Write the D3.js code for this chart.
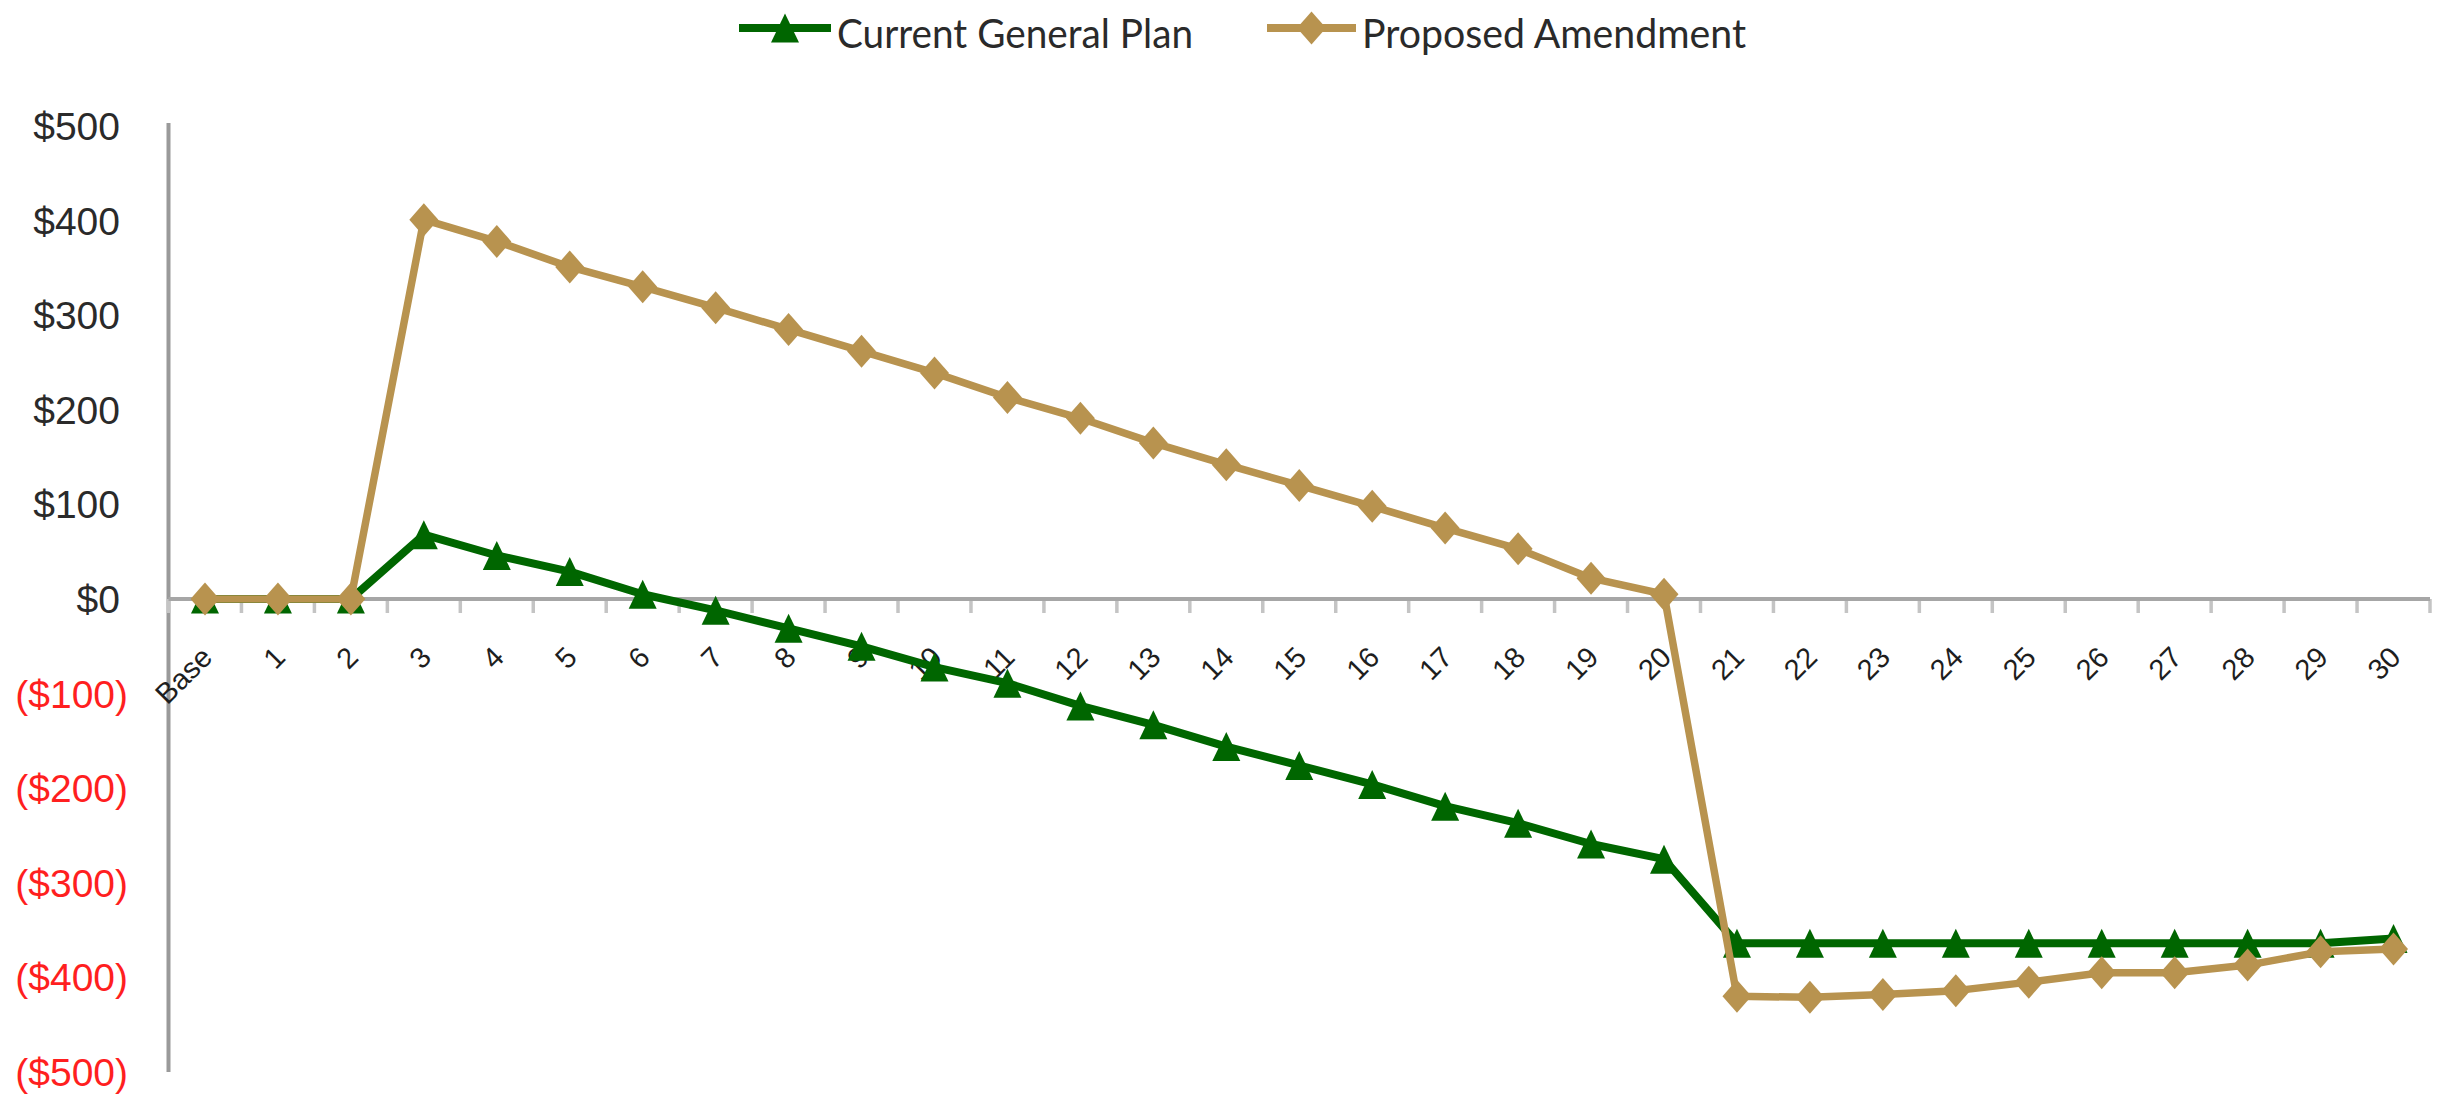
<!DOCTYPE html>
<html><head><meta charset="utf-8">
<script src="https://cdn.jsdelivr.net/npm/d3@7"></script>
<style>body{margin:0;background:#fff;}svg{display:block;}</style>
</head><body>
<svg id="chart" width="2444" height="1099"></svg>
<script>
const categories = ["Base","1","2","3","4","5","6","7","8","9","10","11","12","13","14","15","16","17","18","19","20","21","22","23","24","25","26","27","28","29","30"];
const currentPlan = [0,0,0,68,46,29,5,-12,-31,-50,-72,-89,-113,-133,-156,-176,-196,-219,-237,-259,-275,-364,-364,-364,-364,-364,-364,-364,-364,-364,-359];
const proposedAmendment = [0,0,0,401,378,351,330,308,285,262,239,213,191,165,142,120,98,75,53,22,5,-420,-421,-418,-414,-405,-395,-395,-387,-373,-370];
const yTickValues = [500,400,300,200,100,0,-100,-200,-300,-400,-500];
const seriesNames = ["Current General Plan","Proposed Amendment"];

(function () {
const svg = d3.select("#chart");
const plotLeft = 168.5, plotRight = 2430, plotTop = 126, plotBottom = 1072;
const x = d3.scaleBand().domain(categories).range([plotLeft, plotRight]);
const y = d3.scaleLinear().domain([-500, 500]).range([plotBottom, plotTop]);
const cx = c => x(c) + x.bandwidth() / 2;

const GREEN = "#006600", GOLD = "#b8934f";

// y axis line
svg.append("line").attr("x1", plotLeft).attr("x2", plotLeft).attr("y1", plotTop - 3).attr("y2", plotBottom)
  .attr("stroke", "#9a9a9a").attr("stroke-width", 4);

// x axis at zero with tick marks between categories
const zeroY = y(0);
const tickXs = categories.map(c => x(c)).concat([plotRight]);
svg.append("g").selectAll("line").data(tickXs).join("line")
  .attr("x1", d => d).attr("x2", d => d).attr("y1", zeroY).attr("y2", zeroY + 14)
  .attr("stroke", "#c4c4c4").attr("stroke-width", 3.5);
svg.append("line").attr("x1", plotLeft).attr("x2", plotRight).attr("y1", zeroY).attr("y2", zeroY)
  .attr("stroke", "#a6a6a6").attr("stroke-width", 4);

// y labels
const fmt = v => v < 0 ? "($" + (-v) + ")" : "$" + v;
svg.append("g").selectAll("text").data(yTickValues).join("text")
  .attr("x", d => d < 0 ? 128 : 120)
  .attr("y", d => y(d))
  .attr("dy", "0.36em")
  .attr("text-anchor", "end")
  .attr("font-family", "'Liberation Sans', Arial, sans-serif")
  .attr("font-size", 39)
  .attr("fill", d => d < 0 ? "#ff1f1f" : "#2a2a2a")
  .text(fmt);

// x labels rotated
svg.append("g").selectAll("text").data(categories).join("text")
  .attr("transform", d => `translate(${cx(d) + 9},659) rotate(-45)`)
  .attr("text-anchor", "end")
  .attr("font-family", "'Liberation Sans', Arial, sans-serif")
  .attr("font-size", 29)
  .attr("fill", "#1e1e1e")
  .text(d => d);

const triPath = "M0,-14.5L14,14.5L-14,14.5Z";
const diaPath = "M0,-16.5L14.5,0L0,16.5L-14.5,0Z";

const line = d3.line().x(d => cx(d.c)).y(d => y(d.v));
const greenData = categories.map((c, i) => ({c, v: currentPlan[i]}));
const goldData = categories.map((c, i) => ({c, v: proposedAmendment[i]}));

svg.append("path").datum(greenData).attr("d", line).attr("fill", "none")
  .attr("stroke", GREEN).attr("stroke-width", 8).attr("stroke-linejoin", "round");
svg.append("g").selectAll("path").data(greenData).join("path")
  .attr("transform", d => `translate(${cx(d.c)},${y(d.v)})`).attr("d", triPath).attr("fill", GREEN);

svg.append("path").datum(goldData).attr("d", line).attr("fill", "none")
  .attr("stroke", GOLD).attr("stroke-width", 7.5).attr("stroke-linejoin", "round");
svg.append("g").selectAll("path").data(goldData).join("path")
  .attr("transform", d => `translate(${cx(d.c)},${y(d.v)})`).attr("d", diaPath).attr("fill", GOLD);

// legend
const legend = [
  {name: seriesNames[0], color: GREEN, shape: triPath, x1: 739, x2: 831, tx: 837, tl: 356},
  {name: seriesNames[1], color: GOLD, shape: diaPath, x1: 1267, x2: 1356, tx: 1362, tl: 384}
];
const lg = svg.append("g").selectAll("g").data(legend).join("g");
lg.append("line").attr("x1", d => d.x1).attr("x2", d => d.x2).attr("y1", 28).attr("y2", 28)
  .attr("stroke", d => d.color).attr("stroke-width", 8);
lg.append("path").attr("transform", d => `translate(${(d.x1 + d.x2) / 2},28)`).attr("d", d => d.shape)
  .attr("fill", d => d.color);
lg.append("text").attr("x", d => d.tx).attr("y", 48)
  .attr("font-family", "Lato, 'Open Sans', sans-serif").attr("font-size", 41)
  .attr("fill", "#2a2a2a")
  .attr("textLength", d => d.tl).attr("lengthAdjust", "spacingAndGlyphs")
  .text(d => d.name);
})();
</script>
</body></html>
